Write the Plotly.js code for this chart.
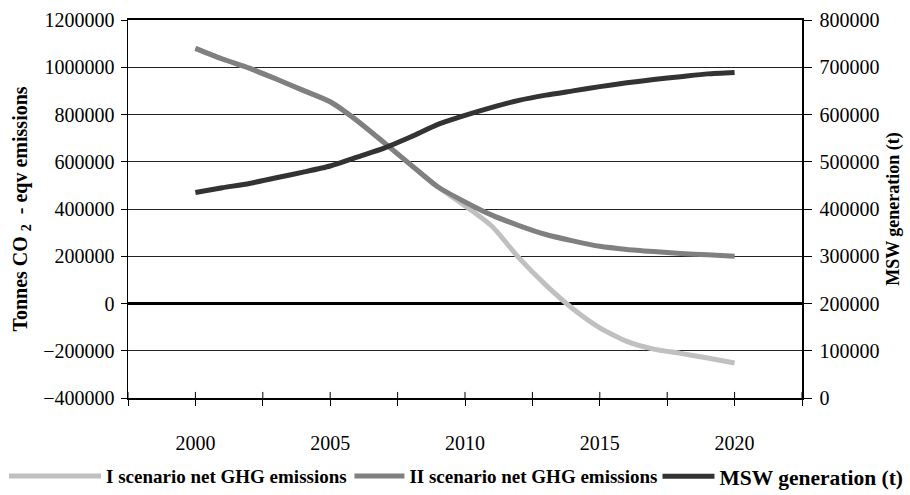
<!DOCTYPE html>
<html>
<head>
<meta charset="utf-8">
<script src="https://cdn.plot.ly/plotly-3.0.1.min.js"></script>
<style>
  html, body { margin: 0; padding: 0; background: #fff; }
  #chart { width: 910px; height: 495px; }
</style>
</head>
<body>
<div id="chart"></div>
<script>
// Years 2000-2020
const years = [2000, 2001, 2002, 2003, 2004, 2005, 2006, 2007, 2008, 2009, 2010,
               2011, 2012, 2013, 2014, 2015, 2016, 2017, 2018, 2019, 2020];

// Net GHG emissions, tonnes CO2-eqv (left axis)
const scenarioI = [1080000, 1035000, 996000, 950000, 902000, 854000, 774000, 681000, 586000, 493000, 414000,
                   327000, 193000, 78000, -22000, -103000, -160000, -193000, -211000, -231000, -252000];
const scenarioII = [1080000, 1035000, 996000, 950000, 902000, 854000, 774000, 681000, 586000, 493000, 430000,
                    374000, 330000, 292000, 265000, 242000, 229000, 220000, 212000, 206000, 200000];

// MSW generation, tonnes (right axis)
const mswGeneration = [435000, 445000, 454000, 466000, 478000, 491000, 510000, 529000, 553000, 579000, 598000,
                       615000, 630000, 641000, 650000, 659000, 667000, 674000, 680000, 686000, 689000];

// X axis tick positions and labels
const xTickVals = [1997.5, 2000, 2002.5, 2005, 2007.5, 2010, 2012.5, 2015, 2017.5, 2020, 2022.5];
const xTickText = ['', '2000', '', '2005', '', '2010', '', '2015', '', '2020', ''];

const serif = '"Liberation Serif", "Times New Roman", serif';

const traces = [
  {
    x: years, y: scenarioI, name: 'I scenario net GHG emissions',
    type: 'scatter', mode: 'lines',
    line: { color: '#c0c0c0', width: 5, shape: 'spline', smoothing: 0.6 },
    yaxis: 'y', legend: 'legend'
  },
  {
    x: years, y: scenarioII, name: 'II scenario net GHG emissions',
    type: 'scatter', mode: 'lines',
    line: { color: '#808080', width: 5, shape: 'spline', smoothing: 0.6 },
    yaxis: 'y', legend: 'legend2'
  },
  {
    x: years, y: mswGeneration, name: 'MSW generation (t)',
    type: 'scatter', mode: 'lines',
    line: { color: '#333333', width: 5, shape: 'spline', smoothing: 0.6 },
    yaxis: 'y2', legend: 'legend3'
  }
];

// upper half of the x tick marks, so that they cross the axis line
const tickShapes = xTickVals.map(v => ({
  type: 'line', xref: 'x', yref: 'paper',
  x0: v, x1: v, y0: 0, y1: 0.016,
  line: { color: '#000', width: 1 }
}));

// one single-entry legend per series, laid out in a row under the chart
function legendBox(x, itemwidth, size) {
  return {
    orientation: 'h',
    xref: 'container', yref: 'container',
    x: x, xanchor: 'left',
    y: 0.038, yanchor: 'middle',
    font: { family: serif, size: size, color: '#000', weight: 'bold' },
    itemwidth: itemwidth,
    bgcolor: 'rgba(0,0,0,0)',
    borderwidth: 0
  };
}

const layout = {
  width: 910, height: 495,
  margin: { l: 128, r: 108, t: 20, b: 97 },
  paper_bgcolor: '#ffffff',
  plot_bgcolor: '#ffffff',
  font: { family: serif, size: 20, color: '#000' },
  showlegend: true,
  legend: legendBox(0.0044, 92, 19),
  legend2: legendBox(0.384, 50, 19),
  legend3: legendBox(0.7225, 52, 21.5),
  shapes: tickShapes,
  xaxis: {
    range: [1997.5, 2022.5],
    tickmode: 'array', tickvals: xTickVals, ticktext: xTickText,
    ticks: 'outside', ticklen: 6, tickcolor: '#000', tickwidth: 1,
    ticklabelstandoff: 20,
    showgrid: false, zeroline: false,
    showline: true, linecolor: '#000', linewidth: 2, mirror: true,
    tickfont: { family: serif, size: 20, color: '#000' },
    automargin: false
  },
  yaxis: {
    range: [-400000, 1200000], dtick: 200000, tick0: 0,
    tickformat: 'd',
    ticks: 'outside', ticklen: 6, tickcolor: '#000', tickwidth: 1,
    ticklabelstandoff: 2,
    showgrid: true, gridcolor: '#222', gridwidth: 1,
    zeroline: true, zerolinecolor: '#000', zerolinewidth: 3,
    showline: true, linecolor: '#000', linewidth: 1.5,
    tickfont: { family: serif, size: 20, color: '#000' },
    title: {
      text: 'Tonnes CO <sub>2</sub>  - eqv emissions',
      font: { family: serif, size: 20, color: '#000', weight: 'bold' },
      standoff: 10
    },
    automargin: false
  },
  yaxis2: {
    range: [0, 800000], dtick: 100000, tick0: 0,
    tickformat: 'd',
    overlaying: 'y', side: 'right',
    ticks: 'outside', ticklen: 8, tickcolor: '#000', tickwidth: 1,
    ticklabelstandoff: 4,
    showgrid: false, zeroline: false,
    showline: true, linecolor: '#000', linewidth: 1.5,
    tickfont: { family: serif, size: 20, color: '#000' },
    title: {
      text: 'MSW generation (t)',
      font: { family: serif, size: 18, color: '#000', weight: 'bold' },
      standoff: 8
    },
    automargin: false
  }
};

Plotly.newPlot('chart', traces, layout, { displayModeBar: false, staticPlot: true });
</script>
</body>
</html>
